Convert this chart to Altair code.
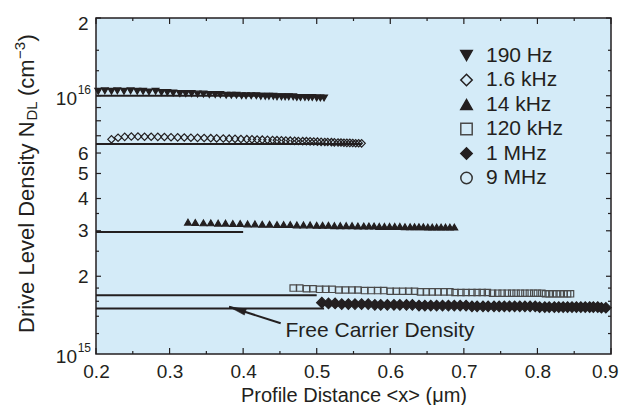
import altair as alt
import pandas as pd

INK = "#231f20"
BG = "#d4ebf8"
FONT = "Liberation Sans"

SERIES = ["190 Hz", "1.6 kHz", "14 kHz", "120 kHz", "1 MHz", "9 MHz"]
SHAPES = ["triangle-down", "diamond", "triangle-up", "square", "diamond", "circle"]
FILLS = [INK, "transparent", INK, "transparent", INK, "transparent"]
STROKES = [INK, INK, INK, "#4a4a4a", INK, "#333333"]
SIZES = [45, 55, 45, 40, 110, 30]

# data (y in units of 1e15 cm^-3)
x_190 = [0.203, 0.212, 0.221, 0.229, 0.238, 0.247, 0.256, 0.264, 0.272, 0.281,
         0.289, 0.297, 0.305, 0.314, 0.322, 0.330, 0.338, 0.346, 0.354, 0.362,
         0.369, 0.377, 0.384, 0.391, 0.398, 0.404, 0.411, 0.418, 0.424, 0.430,
         0.435, 0.441, 0.446, 0.452, 0.457, 0.462, 0.468, 0.473, 0.478, 0.484,
         0.489, 0.494, 0.500, 0.505, 0.510]
y_190 = [10.4, 10.45, 10.4, 10.45, 10.4, 10.45, 10.4, 10.4, 10.35, 10.4,
         10.3, 10.3, 10.25, 10.2, 10.2, 10.2, 10.15, 10.15, 10.1, 10.1,
         10.1, 10.05, 10.05, 10.05, 10.0, 10.0, 10.0, 10.0, 9.95, 9.95,
         9.95, 9.95, 9.9, 9.9, 9.9, 9.9, 9.9, 9.85, 9.85, 9.85,
         9.85, 9.85, 9.8, 9.8, 9.8]

x_1k6 = [0.221, 0.230, 0.239, 0.248, 0.257, 0.266, 0.275, 0.284, 0.293, 0.302,
         0.311, 0.320, 0.329, 0.338, 0.347, 0.356, 0.364, 0.373, 0.381, 0.389,
         0.397, 0.405, 0.412, 0.419, 0.426, 0.433, 0.440, 0.446, 0.452, 0.458,
         0.464, 0.470, 0.475, 0.481, 0.486, 0.491, 0.496, 0.501, 0.506, 0.511,
         0.515, 0.520, 0.524, 0.529, 0.533, 0.537, 0.541, 0.545, 0.549, 0.553,
         0.557, 0.561]
y_1k6 = [6.78, 6.88, 6.93, 6.95, 6.95, 6.94, 6.94, 6.93, 6.92, 6.91,
         6.90, 6.89, 6.88, 6.87, 6.86, 6.85, 6.84, 6.83, 6.82, 6.81,
         6.80, 6.79, 6.78, 6.77, 6.76, 6.75, 6.74, 6.73, 6.72, 6.71,
         6.70, 6.69, 6.68, 6.67, 6.67, 6.66, 6.65, 6.64, 6.63, 6.62,
         6.62, 6.61, 6.60, 6.59, 6.59, 6.58, 6.57, 6.57, 6.56, 6.55,
         6.55, 6.54]

x_14k = [0.325, 0.335, 0.346, 0.356, 0.366, 0.376, 0.386, 0.396, 0.406, 0.416,
         0.426, 0.436, 0.446, 0.455, 0.464, 0.473, 0.482, 0.491, 0.500, 0.508,
         0.516, 0.524, 0.532, 0.540, 0.548, 0.556, 0.564, 0.571, 0.578, 0.585,
         0.592, 0.599, 0.606, 0.613, 0.620, 0.627, 0.633, 0.639, 0.645, 0.651,
         0.657, 0.663, 0.669, 0.675, 0.681, 0.687]
y_14k = [3.24, 3.23, 3.22, 3.22, 3.21, 3.21, 3.20, 3.20, 3.19, 3.19,
         3.18, 3.18, 3.17, 3.17, 3.17, 3.16, 3.16, 3.16, 3.15, 3.15,
         3.15, 3.14, 3.14, 3.14, 3.14, 3.13, 3.13, 3.13, 3.13, 3.12,
         3.12, 3.12, 3.12, 3.12, 3.11, 3.11, 3.11, 3.11, 3.11, 3.10,
         3.10, 3.10, 3.10, 3.10, 3.10, 3.10]

x_120k = [0.468, 0.477, 0.486, 0.495, 0.504, 0.512, 0.521, 0.530, 0.539, 0.548,
          0.556, 0.565, 0.574, 0.583, 0.591, 0.600, 0.608, 0.617, 0.625, 0.633,
          0.641, 0.649, 0.657, 0.665, 0.673, 0.681, 0.688, 0.696, 0.703, 0.711,
          0.718, 0.725, 0.732, 0.739, 0.746, 0.752, 0.759, 0.765, 0.771, 0.777,
          0.783, 0.789, 0.795, 0.800, 0.806, 0.811, 0.816, 0.821, 0.826, 0.831,
          0.836, 0.841, 0.845]
y_120k = [1.80, 1.80, 1.79, 1.79, 1.78, 1.78, 1.78, 1.77, 1.77, 1.77,
          1.77, 1.76, 1.76, 1.76, 1.76, 1.75, 1.75, 1.75, 1.75, 1.75,
          1.74, 1.74, 1.74, 1.74, 1.74, 1.74, 1.73, 1.73, 1.73, 1.73,
          1.73, 1.73, 1.73, 1.72, 1.72, 1.72, 1.72, 1.72, 1.72, 1.72,
          1.72, 1.72, 1.72, 1.72, 1.72, 1.71, 1.71, 1.71, 1.71, 1.71,
          1.71, 1.71, 1.71]

x_1M = [0.507, 0.516, 0.525, 0.534, 0.543, 0.552, 0.561, 0.570, 0.579, 0.587,
        0.596, 0.605, 0.613, 0.622, 0.630, 0.639, 0.647, 0.655, 0.663, 0.671,
        0.679, 0.687, 0.695, 0.703, 0.711, 0.718, 0.726, 0.733, 0.741, 0.748,
        0.755, 0.762, 0.769, 0.776, 0.783, 0.790, 0.797, 0.803, 0.810, 0.816,
        0.823, 0.829, 0.835, 0.841, 0.847, 0.853, 0.859, 0.865, 0.871, 0.876,
        0.882, 0.887, 0.893]
y_1M = [1.58, 1.57, 1.57, 1.56, 1.56, 1.56, 1.56, 1.56, 1.55, 1.55,
        1.55, 1.55, 1.55, 1.55, 1.55, 1.54, 1.54, 1.54, 1.54, 1.54,
        1.54, 1.54, 1.54, 1.54, 1.53, 1.53, 1.53, 1.53, 1.53, 1.53,
        1.53, 1.53, 1.53, 1.53, 1.53, 1.53, 1.53, 1.52, 1.52, 1.52,
        1.52, 1.52, 1.52, 1.52, 1.52, 1.52, 1.52, 1.52, 1.52, 1.52,
        1.52, 1.51, 1.51]

x_9M = []
y_9M = []

# free carrier density lines
FC_X1 = [0.2, 0.2, 0.2, 0.2, 0.2]
FC_X2 = [0.51, 0.561, 0.40, 0.50, 0.51]
FC_Y = [10.0, 6.5, 2.97, 1.69, 1.5]

# annotation arrow (tail -> tip), y in 1e15
ARROW_X = [0.451, 0.381]
ARROW_Y = [1.315, 1.523]
NOTE_X = [0.4575]
NOTE_Y = [1.16]
NOTE_TEXT = ["Free Carrier Density"]

# ticks
X_MAJOR = [0.2, 0.3, 0.4, 0.5, 0.6, 0.7, 0.8, 0.9]
X_MINOR = [0.25, 0.35, 0.45, 0.55, 0.65, 0.75, 0.85]
Y_LABEL_VALUES = [1e15, 2e15, 3e15, 4e15, 5e15, 6e15, 1e16, 2e16]
Y_LABEL_TEXT = ["", "2", "3", "4", "5", "6", "", "2"]
Y_MAJOR = [2e15, 3e15, 4e15, 5e15, 6e15, 7e15, 8e15, 9e15, 1e16, 2e16]
Y_MINOR = [1.2e15, 1.4e15, 1.6e15, 1.8e15, 2.5e15, 3.5e15, 1.25e16, 1.5e16]
DECADES = [1e16, 1e15]
DECADE_EXP = ["16", "15"]

W, H = 515, 336

xs = alt.Scale(domain=[0.2, 0.9], nice=False, zero=False)
ys = alt.Scale(type="log", domain=[1e15, 2e16], nice=False)

rows = []
for name, xv, yv in zip(SERIES, [x_190, x_1k6, x_14k, x_120k, x_1M, x_9M],
                        [y_190, y_1k6, y_14k, y_120k, y_1M, y_9M]):
    for a, b in zip(xv, yv):
        rows.append({"series": name, "x": a, "y": b * 1e15})
pts_df = pd.DataFrame(rows)

label_expr = " : ".join(
    f"abs(datum.value - {v:.6g}) < {v * 1e-3:.6g} ? '{t}'" for v, t in zip(Y_LABEL_VALUES, Y_LABEL_TEXT)
) + " : ''"

xaxis = alt.Axis(values=X_MAJOR, format=".1f", ticks=False, domain=False, grid=False,
                 labelFontSize=19, labelColor=INK, labelPadding=8, labelFlush=False,
                 labelOverlap=False,
                 labelAlign={"condition": {"test": "datum.value > 0.85", "value": "right"},
                             "value": "center"},
                 labelOffset={"condition": {"test": "datum.value > 0.85", "value": 7}, "value": 0},
                 title="Profile Distance <x> (μm)", titleFontSize=20, titleFontWeight="normal",
                 titleColor=INK, titlePadding=4)
yaxis = alt.Axis(values=Y_LABEL_VALUES, labelExpr=label_expr, ticks=False, domain=False,
                 grid=False, labelFontSize=19, labelColor=INK, labelPadding=8,
                 labelOverlap=False, labelFlush=False, title="",
                 labelOffset={"condition": {"test": "datum.value > 1.5e16", "value": 5}, "value": 0})


def X(field):
    return alt.X(field, scale=xs, axis=xaxis)


def Y(field):
    return alt.Y(field, scale=ys, axis=yaxis)


legend = alt.Legend(orient="none", legendX=360, legendY=27, title=None,
                    labelFontSize=21, labelColor=INK, labelFont=FONT,
                    symbolSize=130, symbolStrokeWidth=1.5,
                    symbolOpacity=1, rowPadding=2.5, labelOffset=9, padding=0)

point_layers = []
for name, sz in zip(SERIES, SIZES):
    point_layers.append(
        alt.Chart(pts_df).transform_filter(alt.datum.series == name).mark_point(
            filled=True, strokeWidth=1.2, opacity=1, size=sz
        ).encode(
            x=X("x:Q"), y=Y("y:Q"),
            shape=alt.Shape("series:N", scale=alt.Scale(domain=SERIES, range=SHAPES), legend=legend),
            fill=alt.Fill("series:N", scale=alt.Scale(domain=SERIES, range=FILLS), legend=legend),
            stroke=alt.Stroke("series:N", scale=alt.Scale(domain=SERIES, range=STROKES), legend=legend),
        )
    )

fc_df = pd.DataFrame({"x1": FC_X1, "x2": FC_X2, "y": [v * 1e15 for v in FC_Y]})
fc_lines = alt.Chart(fc_df).mark_rule(color=INK, strokeWidth=2).encode(
    x=X("x1:Q"), x2="x2:Q", y=Y("y:Q"),
)

arr_df = pd.DataFrame({"x1": [ARROW_X[0]], "x2": [ARROW_X[1]],
                       "y1": [ARROW_Y[0] * 1e15], "y2": [ARROW_Y[1] * 1e15]})
arrow_line = alt.Chart(arr_df).mark_rule(color=INK, strokeWidth=2).encode(
    x=X("x1:Q"), x2="x2:Q", y=Y("y1:Q"), y2="y2:Q",
)
arrow_head = alt.Chart(arr_df).mark_point(
    shape="M0,0L0.38,2L-0.38,2Z", angle=287.7, size=289, filled=True,
    fill=INK, stroke=INK, strokeWidth=0.5, opacity=1,
).encode(x=X("x2:Q"), y=Y("y2:Q"))

note_df = pd.DataFrame({"x": NOTE_X, "y": [v * 1e15 for v in NOTE_Y], "t": NOTE_TEXT})
note = alt.Chart(note_df).mark_text(align="left", baseline="alphabetic", fontSize=21,
                                    color=INK, font=FONT).encode(
    x=X("x:Q"), y=Y("y:Q"), text="t:N")


def tick_layers(vals, length, axis_dim):
    df = pd.DataFrame({"v": vals})
    base = alt.Chart(df).mark_rule(color=INK, strokeWidth=1.2)
    if axis_dim == "x":
        return [base.encode(x=X("v:Q"), y=alt.value(H), y2=alt.value(H - length)),
                base.encode(x=X("v:Q"), y=alt.value(0), y2=alt.value(length))]
    return [base.encode(y=Y("v:Q"), x=alt.value(0), x2=alt.value(length)),
            base.encode(y=Y("v:Q"), x=alt.value(W), x2=alt.value(W - length))]


ticks = (tick_layers(X_MAJOR, 6, "x") + tick_layers(X_MINOR, 3, "x") +
         tick_layers(Y_MAJOR, 5, "y") + tick_layers(Y_MINOR, 3, "y"))

dec_df = pd.DataFrame({"v": DECADES, "e": DECADE_EXP, "b": ["10", "10"]})
dec_ten = alt.Chart(dec_df).mark_text(align="right", baseline="middle", fontSize=19,
                                      color=INK, font=FONT, dy=3).encode(
    x=alt.value(-19), y=Y("v:Q"), text="b:N")
dec_exp = alt.Chart(dec_df).mark_text(align="right", baseline="middle", fontSize=12,
                                      color=INK, font=FONT, dy=-6).encode(
    x=alt.value(-5), y=Y("v:Q"), text="e:N")

# rotated y-axis title pieces (x/y in pixels of the plot area)
TITLE_PARTS = ["Drive Level Density N", "DL", "(cm", "\u22123", ")"]
TITLE_SIZES = [22, 15, 22, 15, 22]
TITLE_X = [-69, -64, -69, -76, -69]
TITLE_Y = [315, 102.5, 78, 41, 23.5]
title_layers = []
for t, fs, tx, ty in zip(TITLE_PARTS, TITLE_SIZES, TITLE_X, TITLE_Y):
    title_layers.append(
        alt.Chart(pd.DataFrame({"t": [t]})).mark_text(
            align="left", baseline="middle", angle=270, fontSize=fs, color=INK, font=FONT
        ).encode(x=alt.value(tx), y=alt.value(ty), text="t:N")
    )

chart = alt.layer(
    *ticks, fc_lines, arrow_line, arrow_head, *point_layers, note, dec_ten, dec_exp, *title_layers
).properties(
    width=W, height=H,
    autosize=alt.AutoSizeParams(type="none"),
    padding={"left": 88, "top": 10, "right": 8, "bottom": 51},
).configure(font=FONT).configure_view(
    fill=BG, stroke=INK, strokeWidth=1.5
).configure_axis(labelFont=FONT, titleFont=FONT)

chart.save("out.html", embed_options={"renderer": "svg", "actions": False})
